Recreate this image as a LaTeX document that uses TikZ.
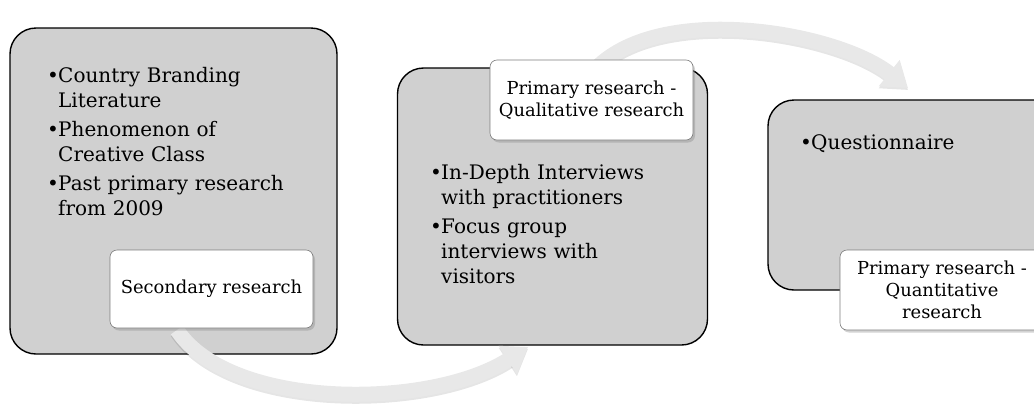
\documentclass[tikz,border=0pt]{standalone}
\usepackage{fontspec}
\setmainfont{DejaVu Serif}
\usetikzlibrary{arrows.meta,shadows}
\definecolor{boxgray}{RGB}{208,208,208}
\definecolor{arrowgray}{RGB}{232,232,232}
\definecolor{labelborder}{RGB}{125,125,125}
\newcommand\bitem[1]{\par\hangindent=11pt\hangafter=1\noindent\makebox[11pt][l]{\textbullet}#1\par}
\begin{document}
\begin{tikzpicture}[x=1pt,y=-1pt,
  bigbox/.style={draw=black, line width=1.4pt, fill=boxgray, rounded corners=26pt, inner sep=0pt},
  labelbox/.style={draw=labelborder, line width=0.6pt, fill=white, rounded corners=7pt, inner sep=0pt,
    align=center, font=\fontsize{17.9}{22}\selectfont,
    drop shadow={shadow xshift=2pt, shadow yshift=-2.5pt, opacity=0.35}},
  bullets/.style={anchor=north west, inner sep=0pt, text width=#1,
    font=\fontsize{20}{24.8}\selectfont\setlength\parskip{4.5pt}\raggedright},
  flow/.style={line width=15pt, draw=arrowgray, -{Triangle[width=32pt,length=24pt]}},
  flowshadow/.style={line width=15pt, draw=black, draw opacity=0.10, -{Triangle[width=32pt,length=24pt]}},
]
\useasboundingbox (0,0) rectangle (1034,405);
\clip (0,0) rectangle (1034,405);

% big boxes
\node[bigbox, minimum width=327pt, minimum height=326pt] (b1) at (173.5,191) {};
\node[bigbox, minimum width=310pt, minimum height=277pt] (b2) at (552.5,206.5) {};
\node[bigbox, minimum width=300pt, minimum height=190pt] (b3) at (918,195) {};

% bullet texts
\node[bullets=275pt] (t1) at (47,53) {%
\bitem{Country Branding\newline Literature}
\bitem{Phenomenon of\newline Creative Class}
\bitem{Past primary research\newline from 2009}};
\node[bullets=265pt] (t2) at (430,150) {%
\bitem{In-Depth Interviews\newline with practitioners}
\bitem{Focus group\newline interviews with\newline visitors}};
\node[bullets=225pt] (t3) at (800,120) {%
\bitem{Questionnaire}};

% arrows
\coordinate (a1s) at (177,330);
\coordinate (a1e) at (528,347);
\coordinate (a2s) at (590,75);
\coordinate (a2e) at (908,88);
\draw[flowshadow] ([yshift=-2pt]a1s) .. controls ([yshift=-2pt]230,410) and ([yshift=-2pt]430,410) .. ([yshift=-2pt]a1e);
\draw[flow] (a1s) .. controls (230,410) and (430,410) .. (a1e);
\draw[flowshadow] ([yshift=-2pt]a2s) .. controls ([yshift=-2pt]650,0) and ([yshift=-2pt]835,30) .. ([yshift=-2pt]a2e);
\draw[flow] (a2s) .. controls (650,0) and (835,30) .. (a2e);

% labels
\node[labelbox, minimum width=203pt, minimum height=78pt] (l1) at (211.5,289) {Secondary research};
\node[labelbox, minimum width=203pt, minimum height=80pt] (l2) at (591.5,100) {Primary research -\\Qualitative research};
\node[labelbox, minimum width=204pt, minimum height=80pt] (l3) at (942,290) {Primary research -\\Quantitative\\research};
\end{tikzpicture}
\end{document}
